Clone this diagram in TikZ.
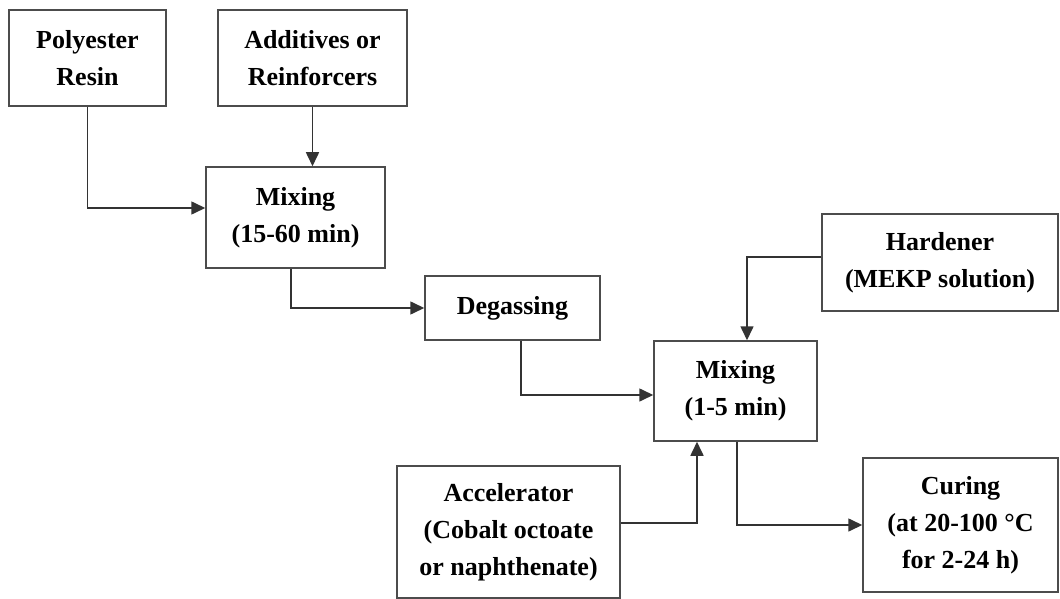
\documentclass[tikz,border=0pt]{standalone}
\usepackage{fontspec}
\setmainfont{Liberation Serif}
\usetikzlibrary{arrows.meta}
\begin{document}
\begin{tikzpicture}[x=1pt,y=-1pt,
  box/.style={draw=black!70,line width=1.5pt,fill=white,align=center,inner sep=0pt,
    font=\fontsize{26}{37}\selectfont\bfseries},
  arr/.style={draw=black!80,line width=1.6pt,-{Triangle[length=14pt,width=13pt]}}]
\useasboundingbox[fill=white] (0,0) rectangle (1060,599);
\node[box,minimum width=157pt,minimum height=96pt] (poly) at (87.5,58) {Polyester\\Resin};
\node[box,minimum width=189pt,minimum height=96pt] (add) at (312.5,58) {Additives or\\Reinforcers};
\node[box,minimum width=179pt,minimum height=101pt] (mix1) at (295.5,217.5) {Mixing\\(15-60 min)};
\node[box,minimum width=175pt,minimum height=64pt] (deg) at (512.5,308) {Degassing};
\node[box,minimum width=236pt,minimum height=97pt] (hard) at (940,262.5) {Hardener\\(MEKP solution)};
\node[box,minimum width=163pt,minimum height=100pt] (mix2) at (735.5,391) {Mixing\\(1-5 min)};
\node[box,minimum width=223pt,minimum height=132pt] (acc) at (508.5,532) {Accelerator\\(Cobalt octoate\\or naphthenate)};
\node[box,minimum width=195pt,minimum height=134pt] (cur) at (960.5,525) {Curing\\(at 20-100 °C\\for 2-24 h)};
\draw[arr] (poly.south) |- ([yshift=9.5pt]mix1.west);
\draw[arr] (add.south) -- (add.south |- mix1.north);
\draw[arr] ([xshift=-4.5pt]mix1.south) |- (deg.west);
\draw[arr] ([xshift=8.5pt]deg.south) |- ([yshift=-4pt]mix2.west);
\draw[arr] ([yshift=5.5pt]hard.west) -| ([xshift=11.5pt]mix2.north);
\draw[arr] ([yshift=9pt]acc.east) -| ([xshift=-38.5pt]mix2.south);
\draw[arr] ([xshift=1.5pt]mix2.south) |- (cur.west);
\end{tikzpicture}
\end{document}
